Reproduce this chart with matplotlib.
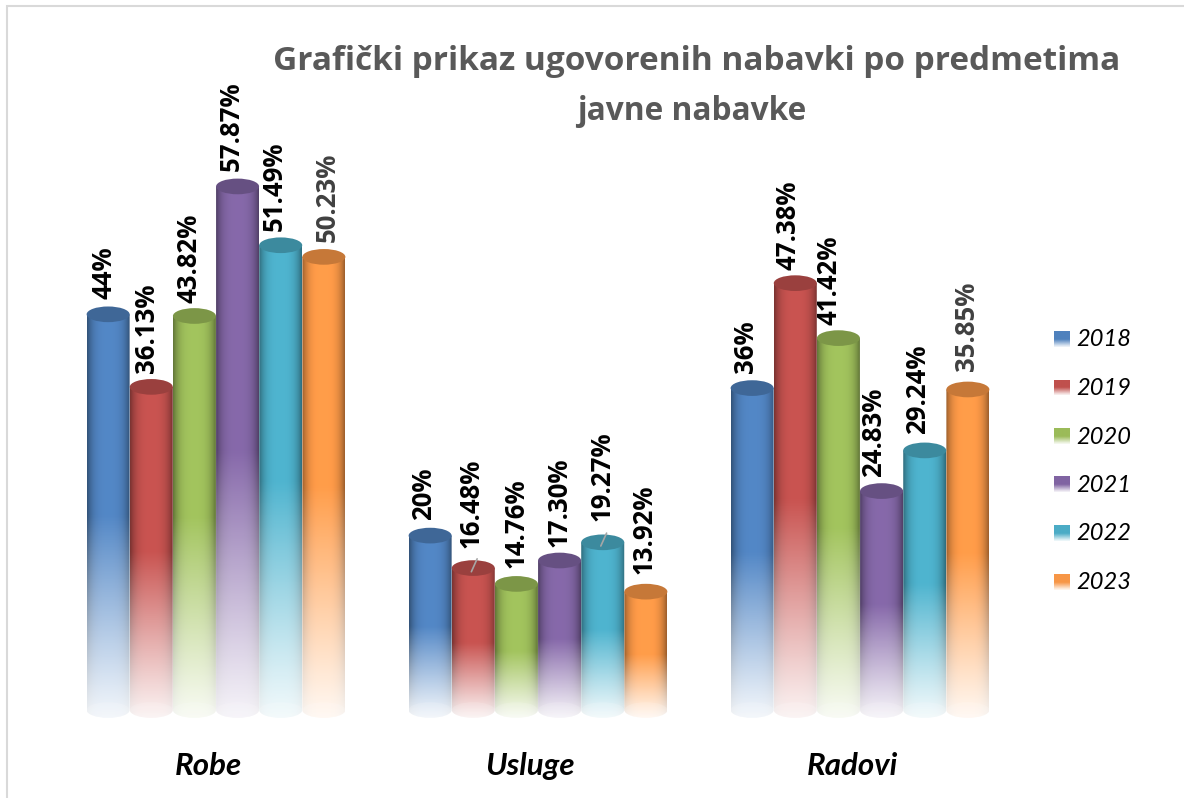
import numpy as np
import matplotlib
matplotlib.use('Agg')
import matplotlib.pyplot as plt
from matplotlib.patches import Ellipse, PathPatch, Rectangle
from matplotlib.path import Path

W, H = 1184, 798

categories = ['Robe', 'Usluge', 'Radovi']
years = ['2018', '2019', '2020', '2021', '2022', '2023']
robe = [44, 36.13, 43.82, 57.87, 51.49, 50.23]
usluge = [20, 16.48, 14.76, 17.30, 19.27, 13.92]
radovi = [36, 47.38, 41.42, 24.83, 29.24, 35.85]
robe_labels = ['44%', '36.13%', '43.82%', '57.87%', '51.49%', '50.23%']
usluge_labels = ['20%', '16.48%', '14.76%', '17.30%', '19.27%', '13.92%']
radovi_labels = ['36%', '47.38%', '41.42%', '24.83%', '29.24%', '35.85%']
colors = ['#4f81bd', '#c0504d', '#9bbb59', '#8064a2', '#4bacc6', '#f79646']

# label nudges in pixels (dx, gap above the bar top)
robe_nudge = [(-4, 15), (-5, 14), (-5, 13), (-6, 15), (-6, 14), (3, 15)]
usluge_nudge = [(-7, 16), (-2, 20), (0, 16), (-1, 13), (-1, 21), (-2, 18)]
radovi_nudge = [(-7, 15), (-7, 13), (-9, 13), (-8, 14), (-7, 16), (-1, 18)]

plt.rcParams['font.family'] = ['Lato', 'DejaVu Sans']

Y_SCALE = 9.22      # pixels per percent
BASE_PX = 720       # pixel row of value 0
FLOOR = 1.08        # the tubes stand a little above value 0


def px_axes(fig, x0, y0, x1, y1):
    # y0 is the top pixel, y1 the bottom one
    return fig.add_axes([x0 / W, 1 - y1 / H, (x1 - x0) / W, (y1 - y0) / H])


def shade(color, dark):
    rgb = np.array(matplotlib.colors.to_rgb(color))
    return tuple(rgb * dark)


def cylinder(ax, x, width, value, color):
    ry = 0.85  # half height of the ellipses, in value units
    left, right = x - width / 2, x + width / 2
    u = np.linspace(-1, 1, 60)
    # darker towards the sides of the tube
    side = 1 - 0.36 * np.abs(u) ** 3.5 + 0.05 * (1 - u ** 2)
    v = np.linspace(1, 0, 200)
    # fade out over the lower half of the tube
    fade = np.clip(v / 0.5, 0, 1)
    fade = 0.08 + 0.92 * fade ** 1.1
    base = np.array(matplotlib.colors.to_rgb(color))
    img = np.zeros((200, 60, 4))
    img[:, :, :3] = np.clip(base[None, None, :] * side[None, :, None], 0, 1)
    img[:, :, 3] = fade[:, None]
    im = ax.imshow(img, extent=(left, right, FLOOR - ry, value), aspect='auto',
                   interpolation='bilinear', zorder=2)
    # tube outline, round at the bottom
    k = 0.5523
    verts = [(left, value), (left, FLOOR),
             (left, FLOOR - k * ry), (x - k * width / 2, FLOOR - ry), (x, FLOOR - ry),
             (x + k * width / 2, FLOOR - ry), (right, FLOOR - k * ry), (right, FLOOR),
             (right, value), (left, value)]
    codes = [Path.MOVETO, Path.LINETO, Path.CURVE4, Path.CURVE4, Path.CURVE4,
             Path.CURVE4, Path.CURVE4, Path.CURVE4, Path.LINETO, Path.CLOSEPOLY]
    clip = PathPatch(Path(verts, codes), transform=ax.transData, fc='none', ec='none')
    ax.add_patch(clip)
    im.set_clip_path(clip)
    ax.add_patch(Ellipse((x, FLOOR), width, 2 * ry, fc=(1, 1, 1, 0.15), ec='none', zorder=2.1))
    ax.add_patch(Ellipse((x, value), width, 2 * ry, fc=shade(color, 0.8), ec='none', zorder=2.2))


fig = plt.figure(figsize=(W / 100, H / 100), dpi=100, facecolor='white')

# chart frame, only top and left are inside the picture
fig.add_artist(Rectangle((6.5 / W, -0.01), 1.1, 1 - 6 / H + 0.01, transform=fig.transFigure,
                         fc='none', ec='#d9d9d9', lw=1.5))

ax = px_axes(fig, 55, 50, 1021, 735)
bar_w = 43 / 322
pitch = 43.15 / 322
groups = [robe, usluge, radovi]
group_labels = [robe_labels, usluge_labels, radovi_labels]
group_nudges = [robe_nudge, usluge_nudge, radovi_nudge]

for g, values in enumerate(groups):
    for i, val in enumerate(values):
        x = g + (i - 2.5) * pitch
        cylinder(ax, x, bar_w, val, colors[i])
        dx, gap = group_nudges[g][i]
        col = '#404040' if group_labels[g][i] in ('50.23%', '35.85%') else 'black'
        ax.annotate(group_labels[g][i], (x, val), xytext=(dx, gap), textcoords='offset pixels',
                    rotation=90, ha='center', va='bottom', fontsize=18.5, fontweight='bold',
                    family=['Open Sans', 'DejaVu Sans'], color=col, zorder=4)

# leader lines on the two Usluge labels that sit off their bars
for i in (1, 4):
    x = 1 + (i - 2.5) * pitch
    ax.annotate('', (x - 0.006, usluge[i] - 0.4), xytext=(x + 0.012, usluge[i] + 1.0),
                arrowprops=dict(arrowstyle='-', color='#a6a6a6', lw=1.2, shrinkA=0, shrinkB=0),
                zorder=5)

ax.set_xlim(-0.5, 2.5)
ax.set_ylim((BASE_PX - 735) / Y_SCALE, (BASE_PX - 50) / Y_SCALE)
ax.set_xticks([g - 8 / 322 for g in range(3)])
ax.set_xticklabels(categories, fontsize=22.5, fontweight='bold', fontstyle='italic', color='black')
ax.tick_params(axis='x', length=0, pad=12)
ax.set_yticks([])
for s in ax.spines.values():
    s.set_visible(False)
ax.patch.set_alpha(0)
for art in ax.patches:
    art.set_clip_on(False)

# title
title_font = ['Open Sans', 'DejaVu Sans']
fig.text(697 / W, 1 - 61 / H, 'Grafički prikaz ugovorenih nabavki po predmetima',
         ha='center', va='center', fontsize=24, fontweight='bold', color='#595959', family=title_font)
fig.text(692 / W, 1 - 111 / H, 'javne nabavke',
         ha='center', va='center', fontsize=22.8, fontweight='bold', color='#595959', family=title_font)

# legend, built by hand because of the fading swatches
for i, year in enumerate(years):
    top = 331 + i * 48.5
    lax = px_axes(fig, 1054, top, 1070, top + 16)
    sw = np.ones((32, 1, 4))
    sw[:, :, :3] = matplotlib.colors.to_rgb(colors[i])
    sw[:, 0, 3] = np.clip((32 - np.arange(32)) / 16, 0.1, 1)
    lax.imshow(sw, aspect='auto')
    lax.axis('off')
    fig.text(1076 / W, 1 - (top + 9) / H, year, ha='left', va='center', fontsize=17,
             fontstyle='italic', color='black')

fig.savefig('out.png', dpi=100)
